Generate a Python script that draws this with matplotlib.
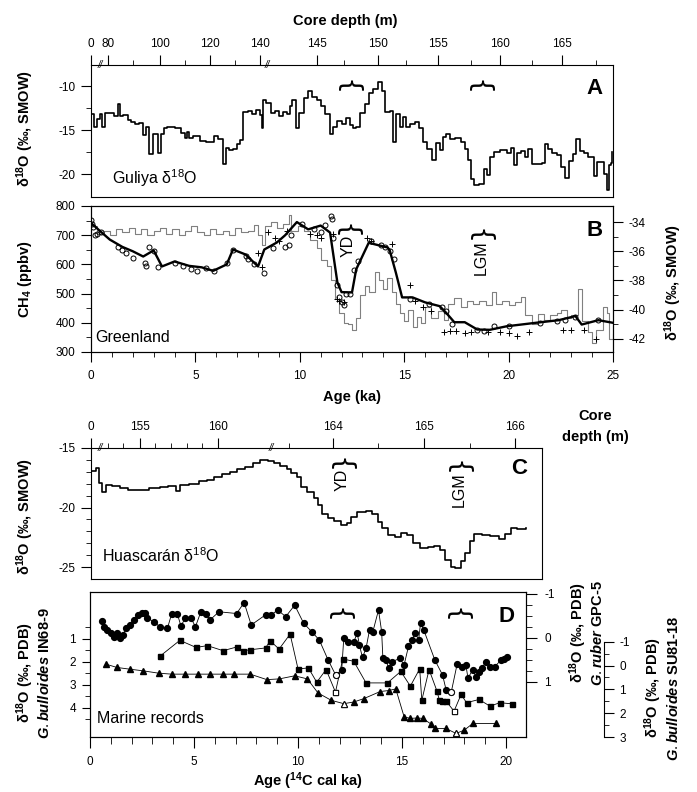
import matplotlib
matplotlib.use("Agg")
import matplotlib.pyplot as plt

plt.rcParams['font.family'] = ['Liberation Sans', 'DejaVu Sans']
plt.rcParams['mathtext.fontset'] = 'custom'
plt.rcParams['mathtext.rm'] = 'Liberation Sans'
plt.rcParams['mathtext.bf'] = 'Liberation Sans:bold'
plt.rcParams['mathtext.it'] = 'Liberation Sans:bold:italic'
plt.rcParams['axes.unicode_minus'] = False
plt.rcParams['axes.linewidth'] = 0.8
plt.rcParams['xtick.direction'] = 'out'
plt.rcParams['ytick.direction'] = 'out'

# ---- panel A : Guliya d18O (age ka, permil)
guliya_age = [0.0, 0.15, 0.3, 0.45, 0.55, 0.65, 0.9, 1.1, 1.3, 1.4, 1.55, 1.75, 1.9, 2.1, 2.3,
              2.5, 2.65, 2.8, 2.95, 3.2, 3.35, 3.5, 3.65, 4.0, 4.3, 4.5, 4.6, 4.7, 4.9, 5.2,
              5.5, 5.9, 6.1, 6.3, 6.45, 6.6, 6.8, 7.0, 7.15, 7.3, 7.5, 7.7, 7.9, 8.1, 8.2,
              8.25, 8.4, 8.6, 8.8, 9.0, 9.2, 9.4, 9.55, 9.65, 9.8, 9.95, 10.2, 10.4, 10.6, 10.8,
              11.0, 11.2, 11.45, 11.6, 11.8, 12.0, 12.2, 12.4, 12.55, 12.7, 12.9, 13.1, 13.3, 13.5,
              13.75, 13.95, 14.1, 14.3, 14.45, 14.6, 14.8, 14.95, 15.1, 15.3, 15.5, 15.7, 15.9,
              16.1, 16.35, 16.5, 16.7, 16.85, 17.0, 17.2, 17.45, 17.7, 17.9, 18.05, 18.2, 18.35,
              18.6, 18.8, 18.95, 19.1, 19.3, 19.6, 19.9, 20.1, 20.25, 20.4, 20.6, 20.8, 20.95,
              21.1, 21.4, 21.6, 21.75, 21.9, 22.1, 22.3, 22.5, 22.7, 22.9, 23.1, 23.25, 23.4,
              23.6, 23.8, 23.95, 24.1, 24.25, 24.4, 24.55, 24.7, 24.8, 24.9, 24.97]
guliya_d18o = [-13.2, -14.6, -13.7, -13.2, -14.6, -13.1, -13.0, -13.4, -12.0, -13.4, -13.3, -13.8,
               -14.1, -14.3, -14.2, -15.5, -14.6, -17.7, -15.4, -17.6, -15.4, -14.8, -14.7, -14.8,
               -15.3, -15.9, -15.2, -15.9, -15.7, -16.2, -16.4, -15.7, -16.0, -18.8, -17.0, -17.3,
               -17.1, -16.6, -16.1, -12.9, -12.8, -13.2, -12.7, -13.3, -14.8, -11.6, -11.9, -13.0,
               -12.8, -13.4, -12.9, -13.2, -12.3, -11.6, -14.8, -13.0, -11.3, -10.6, -11.2, -11.6,
               -12.3, -13.2, -15.4, -14.6, -14.0, -14.3, -13.6, -14.4, -14.8, -14.6, -13.0, -12.0,
               -10.8, -10.3, -9.5, -10.5, -12.9, -12.8, -16.3, -13.2, -14.6, -13.5, -14.6, -14.3,
               -14.1, -14.8, -16.4, -17.2, -18.4, -16.5, -17.3, -15.8, -15.4, -16.0, -15.9, -16.3,
               -17.2, -18.4, -20.5, -21.2, -21.1, -19.4, -20.1, -18.0, -17.5, -17.3, -17.6, -17.0,
               -19.0, -17.6, -17.4, -18.0, -17.1, -18.8, -18.8, -18.7, -16.6, -17.2, -17.6, -17.8,
               -19.2, -20.4, -18.5, -17.7, -16.0, -17.4, -17.6, -18.0, -18.1, -20.2, -18.6, -18.6,
               -20.0, -21.8, -19.0, -18.7, -17.5]
depthA_labels = ['0', '80', '100', '120', '140', '145', '150', '155', '160', '165']
depthA_ages = [0.0, 0.8, 3.3, 5.7, 8.1, 10.8, 13.75, 16.6, 19.6, 22.55]
depthA_minor = [2.0, 4.5, 6.9, 12.1, 15.1, 18.2, 21.1, 24.2]

# ---- panel B : Greenland CH4 (ppbv) and d18O (permil)
gisp_age = [0.0, 0.3, 0.6, 0.9, 1.2, 1.5, 1.8, 2.1, 2.4, 2.7, 3.0, 3.3, 3.6, 3.9, 4.2, 4.5, 4.8,
            5.1, 5.4, 5.7, 6.0, 6.3, 6.6, 6.9, 7.2, 7.5, 7.8, 8.0, 8.2, 8.35, 8.6, 8.9, 9.2, 9.5,
            9.6, 9.9, 10.2, 10.5, 10.8, 11.0, 11.3, 11.5, 11.7, 11.9, 12.1, 12.3, 12.5, 12.7,
            12.9, 13.1, 13.3, 13.6, 13.8, 14.0, 14.2, 14.4, 14.6, 14.8, 15.0, 15.2, 15.4, 15.6,
            15.8, 16.0, 16.3, 16.6, 16.9, 17.1, 17.4, 17.7, 18.0, 18.3, 18.6, 18.9, 19.2, 19.4,
            19.7, 20.0, 20.3, 20.6, 20.8, 21.1, 21.4, 21.7, 22.0, 22.3, 22.5, 22.8, 23.0, 23.3,
            23.5, 23.8, 24.0, 24.2, 24.5, 24.7, 24.8, 25.0]
gisp_d18o = [-34.3, -34.8, -34.6, -34.9, -34.5, -34.7, -34.4, -34.8, -34.5, -34.9, -34.6, -34.4,
             -34.8, -34.5, -34.9, -34.6, -34.3, -34.7, -34.9, -34.5, -34.8, -34.6, -34.9, -34.4,
             -34.7, -34.6, -34.2, -34.9, -35.6, -34.3, -34.0, -34.4, -34.1, -33.5, -34.6, -34.3,
             -34.6, -35.2, -35.8, -36.6, -37.0, -38.0, -39.3, -40.2, -40.9, -41.0, -41.4, -40.6,
             -39.0, -38.4, -38.8, -37.4, -38.0, -38.6, -37.8, -38.8, -39.6, -40.2, -40.8, -40.0,
             -41.2, -40.5, -40.9, -39.8, -40.6, -40.1, -40.7, -39.6, -39.2, -39.8, -39.4, -39.6,
             -39.4, -39.7, -38.8, -39.6, -39.4, -39.7, -39.5, -39.1, -40.4, -41.0, -40.3, -40.7,
             -40.4, -40.2, -40.0, -40.6, -40.4, -38.6, -40.8, -41.5, -42.3, -41.4, -39.8, -40.2,
             -42.0, -41.7]
ch4_fit_age = [0.0, 0.5, 0.9, 1.5, 2.0, 2.5, 3.0, 3.4, 4.0, 4.7, 5.3, 5.85, 6.5, 6.8, 7.4, 8.0,
               8.3, 8.9, 9.3, 9.86, 10.4, 11.0, 11.45, 11.8, 12.0, 12.5, 12.7, 13.3, 14.2, 14.3,
               14.6, 14.9, 15.4, 16.0, 16.7, 17.0, 17.4, 17.9, 18.5, 19.1, 19.9, 21.3, 22.4,
               23.2, 23.5, 24.3, 25.0]
ch4_fit = [742, 710, 685, 660, 645, 627, 648, 593, 610, 595, 590, 578, 600, 651, 634, 593, 651,
           675, 700, 745, 720, 733, 709, 538, 505, 504, 583, 674, 658, 650, 572, 487, 487, 470,
           457, 435, 402, 402, 377, 376, 388, 400, 409, 423, 394, 409, 400]
ch4_circ_age = [0.0, 0.05, 0.1, 0.2, 0.3, 0.5, 1.3, 1.5, 1.7, 2.0, 2.6, 2.65, 2.8, 3.0, 3.2, 4.0,
                4.4, 4.8, 5.1, 5.5, 5.9, 6.5, 6.8, 7.4, 7.5, 7.8, 8.3, 8.7, 9.3, 9.5, 9.6, 10.1,
                10.7, 11.0, 11.2, 11.5, 11.55, 11.6, 11.8, 11.9, 12.0, 12.1, 12.2, 12.4, 12.6,
                12.8, 13.4, 13.9, 14.1, 14.3, 14.5, 15.3, 16.2, 16.8, 17.0, 17.3, 18.5, 18.8,
                19.3, 20.0, 21.5, 22.3, 22.7, 23.2, 24.3]
ch4_circ = [752, 740, 728, 700, 705, 712, 660, 650, 640, 622, 605, 595, 660, 645, 590, 605, 595,
            585, 578, 588, 576, 605, 650, 630, 620, 600, 570, 655, 660, 665, 700, 740, 720, 710,
            735, 765, 755, 690, 530, 490, 470, 460, 500, 500, 580, 610, 680, 665, 660, 645, 620,
            480, 465, 455, 440, 395, 375, 372, 388, 390, 400, 405, 410, 420, 408]
ch4_plus_age = [8.0, 8.2, 8.5, 8.8, 9.0, 9.4, 10.5, 10.8, 11.0, 11.6, 11.8, 11.9, 12.1, 13.2,
                13.4, 14.4, 15.3, 15.5, 15.9, 16.3, 16.9, 17.2, 17.5, 17.9, 18.2, 19.0, 19.6,
                20.0, 20.4, 21.0, 22.6, 23.0, 23.6, 24.2]
ch4_plus = [640, 590, 712, 690, 680, 715, 705, 700, 690, 705, 480, 475, 470, 690, 680, 670, 530,
            475, 455, 440, 370, 372, 372, 365, 368, 370, 368, 365, 355, 370, 375, 375, 375, 345]

# ---- panel C : Huascaran d18O
huas_age = [0.0, 0.25, 0.4, 0.55, 0.7, 1.0, 1.4, 1.8, 2.3, 2.8, 3.3, 3.7, 4.1, 4.3, 4.7, 5.2,
            5.6, 5.9, 6.3, 6.7, 7.0, 7.4, 7.8, 8.1, 8.5, 8.8, 9.1, 9.4, 9.6, 9.9, 10.1, 10.4,
            10.7, 10.9, 11.1, 11.4, 11.7, 12.0, 12.3, 12.5, 12.8, 13.2, 13.5, 13.8, 14.0, 14.3,
            14.6, 14.9, 15.2, 15.5, 15.8, 16.2, 16.5, 16.8, 17.0, 17.3, 17.5, 17.8, 18.0, 18.2,
            18.4, 18.8, 19.2, 19.6, 19.9, 20.2, 20.5, 20.9]
huas_d18o = [-16.9, -16.7, -17.9, -18.7, -18.1, -18.2, -18.4, -18.5, -18.5, -18.4, -18.3, -18.2,
             -18.6, -18.1, -18.0, -17.8, -17.7, -17.4, -17.2, -17.0, -16.8, -16.6, -16.3, -16.0,
             -16.1, -16.3, -16.5, -16.8, -17.1, -17.4, -18.3, -18.7, -19.2, -19.8, -20.5, -20.9,
             -21.1, -21.5, -21.3, -20.8, -20.4, -20.3, -20.5, -21.2, -21.7, -22.3, -22.5, -22.1,
             -22.3, -23.0, -23.4, -23.3, -23.2, -23.6, -24.4, -25.0, -25.1, -24.5, -23.8, -22.8,
             -22.2, -22.3, -22.4, -22.6, -22.2, -21.7, -21.8, -21.7]
depthC_labels = ['0', '155', '160', '164', '165', '166']
depthC_ages = [0.0, 2.37, 6.12, 11.65, 16.02, 20.4]
depthC_minor = [0.8, 1.55, 3.1, 3.85, 4.6, 5.35, 9.5, 13.8, 18.2]

# ---- panel D : marine records
gpc5_age = [0.57, 0.65, 0.83, 1.0, 1.15, 1.3, 1.43, 1.58, 1.73, 1.9, 2.1, 2.33, 2.5, 2.65, 2.75,
            3.08, 3.35, 3.72, 3.93, 4.2, 4.37, 4.58, 4.86, 5.07, 5.33, 5.6, 5.76, 6.2, 7.05, 7.41,
            7.75, 8.44, 8.72, 9.02, 9.41, 9.84, 10.27, 10.65, 11.02, 11.45, 11.81, 12.1, 12.2,
            12.42, 12.68, 12.85, 12.95, 13.1, 13.27, 13.44, 13.6, 13.87, 14.02, 14.08, 14.24,
            14.35, 14.52, 14.88, 15.1, 15.31, 15.47, 15.63, 15.8, 15.89, 16.05, 16.58, 16.95,
            17.12, 17.37, 17.65, 17.86, 18.07, 18.17, 18.4, 18.55, 18.7, 18.85, 19.02, 19.23,
            19.45, 19.76, 19.9, 20.07]
gpc5_d18o = [-0.39, -0.25, -0.17, -0.11, -0.02, -0.11, 0.01, -0.06, -0.22, -0.29, -0.40, -0.52,
             -0.56, -0.56, -0.45, -0.36, -0.25, -0.21, -0.55, -0.54, -0.27, -0.44, -0.44, -0.25,
             -0.59, -0.55, -0.40, -0.59, -0.55, -0.80, -0.29, -0.52, -0.52, -0.63, -0.48, -0.74,
             -0.33, -0.14, 0.05, 0.51, 0.85, 0.73, 0.01, 0.09, 0.09, -0.10, 0.17, 0.45, 0.24,
             -0.18, -0.14, -0.63, -0.14, 0.47, 0.51, 0.70, 0.55, 0.47, 0.62, 0.20, 0.05, -0.10,
             0.05, -0.33, -0.17, 0.51, 0.85, 1.19, 1.23, 0.60, 0.66, 0.62, 0.92, 0.73, 0.89,
             0.77, 0.70, 0.55, 0.66, 0.66, 0.51, 0.49, 0.45]
gpc5_open = [11.81, 17.37]
in68_age = [3.35, 4.32, 5.1, 5.64, 6.4, 7.05, 7.37, 7.7, 8.44, 8.66, 9.09, 9.62, 10.0, 10.5,
            10.9, 11.35, 11.8, 12.15, 12.68, 13.27, 14.3, 14.94, 15.4, 15.85, 15.95, 16.3,
            16.67, 16.8, 16.9, 17.12, 17.5, 17.84, 18.1, 18.7, 19.23, 19.7, 20.3]
in68_d18o = [1.77, 1.07, 1.38, 1.30, 1.52, 1.36, 1.52, 1.48, 1.40, 1.09, 1.45, 0.80, 2.31, 2.27,
             2.89, 2.34, 3.32, 1.88, 1.98, 2.92, 2.92, 2.42, 3.06, 2.31, 3.68, 2.34, 3.25, 3.68,
             3.71, 3.71, 4.15, 3.42, 3.78, 3.64, 3.93, 3.78, 3.83]
in68_open = [11.8, 17.5]
su81_age = [0.76, 1.3, 1.9, 2.55, 3.3, 3.93, 4.58, 5.2, 5.76, 6.4, 6.93, 7.7, 8.5, 9.1, 9.84,
            10.45, 10.96, 11.6, 12.2, 12.68, 13.16, 13.95, 14.35, 14.7, 15.1, 15.4, 15.73,
            16.0, 16.4, 16.6, 17.1, 17.6, 18.0, 18.4, 19.5]
su81_d18o = [-0.06, 0.08, 0.15, 0.22, 0.32, 0.36, 0.36, 0.36, 0.36, 0.36, 0.36, 0.36, 0.59,
             0.56, 0.43, 0.56, 1.15, 1.46, 1.60, 1.53, 1.39, 1.09, 1.05, 0.98, 2.15, 2.22, 2.20,
             2.22, 2.46, 2.64, 2.64, 2.85, 2.71, 2.43, 2.43]
su81_open = [12.2, 17.6]

W, H = 697, 792
fig = plt.figure(figsize=(W / 100, H / 100), dpi=100)


def box(x0, y0, x1, y1):
    return fig.add_axes([x0 / W, 1 - y1 / H, (x1 - x0) / W, (y1 - y0) / H])


def ft(x, y, s, **kw):
    kw.setdefault('ha', 'center')
    kw.setdefault('va', 'center')
    return fig.text(x / W, 1 - y / H, s, **kw)


def brace(x, y, size=19):
    # "}" turned on its side, bottom edge at y
    ft(x, y, '}', fontsize=size, rotation=90, family='DejaVu Sans', va='bottom')


def period(x, top, s):
    # rotated label (YD / LGM) with its brace above
    ft(x, top, s, rotation=90, fontsize=11.5, va='top')
    brace(x + 1, top - 1)


TS = 8.5
LAB = dict(fontsize=10.5, fontweight='bold')

# ================= A
ax_a = box(91, 65, 613, 197)
ax_a.step(guliya_age, guliya_d18o, where='post', color='k', lw=1.2)
ax_a.set_xlim(0, 25)
ax_a.set_ylim(-22.6, -7.6)
ax_a.set_yticks([-10, -15, -20])
ax_a.set_yticks([-12.5, -17.5], minor=True)
ax_a.xaxis.tick_top()
ax_a.set_xticks(depthA_ages, depthA_labels)
ax_a.set_xticks(depthA_minor, minor=True)
ax_a.tick_params(which='major', length=7, pad=4, labelsize=TS)
ax_a.tick_params(which='minor', length=3.5)
for a in [0.45, 8.45]:
    ax_a.text(a, 1.0, '//', transform=ax_a.get_xaxis_transform(), fontsize=7,
              ha='center', va='center', style='italic')
ax_a.text(0.04, 0.14, 'Guliya δ$^{18}$O', transform=ax_a.transAxes, fontsize=11.5,
          va='center')
ax_a.text(0.965, 0.82, 'A', transform=ax_a.transAxes, fontsize=16, fontweight='bold',
          ha='center', va='center')
brace(350, 90)
brace(481, 90)
ft(345, 21, 'Core depth (m)', **LAB)
ft(25, 128, 'δ$^{\\mathbf{18}}$O (‰, SMOW)', rotation=90, **LAB)

# ================= B
ax_b = box(91, 206, 613, 352)
ax_b2 = ax_b.twinx()
ax_b2.step(gisp_age, gisp_d18o, where='post', color='0.5', lw=0.8)
ax_b2.set_ylim(-42.9, -32.9)
ax_b2.set_yticks([-34, -36, -38, -40, -42])
ax_b2.set_yticks([-35, -37, -39, -41], minor=True)
ax_b2.tick_params(which='major', length=7, pad=4, labelsize=TS)
ax_b2.tick_params(which='minor', length=3.5)
ax_b.set_zorder(ax_b2.get_zorder() + 1)
ax_b.patch.set_visible(False)
ax_b.plot(ch4_fit_age, ch4_fit, color='k', lw=1.7)
ax_b.plot(ch4_circ_age, ch4_circ, 'o', mfc='none', mec='k', ms=3.6, mew=0.7)
ax_b.plot(ch4_plus_age, ch4_plus, '+', color='k', ms=4.5, mew=0.7)
ax_b.set_xlim(0, 25)
ax_b.set_ylim(300, 800)
ax_b.set_xticks([0, 5, 10, 15, 20, 25])
ax_b.set_xticks(range(0, 26), minor=True)
ax_b.set_yticks(range(300, 801, 100))
ax_b.set_yticks(range(350, 800, 100), minor=True)
ax_b.tick_params(which='major', length=7, pad=4, labelsize=TS)
ax_b.tick_params(axis='x', which='major', pad=6)
ax_b.tick_params(which='minor', length=3.5)
ax_b.text(0.008, 0.10, 'Greenland', transform=ax_b.transAxes, fontsize=11.5, va='center')
ax_b.text(0.965, 0.83, 'B', transform=ax_b.transAxes, fontsize=16, fontweight='bold',
          ha='center', va='center')
period(348, 235, 'YD')
period(481, 240, 'LGM')
ft(25, 279, 'CH$_\\mathbf{4}$ (ppbv)', rotation=90, **LAB)
ft(673, 282, 'δ$^{\\mathbf{18}}$O (‰, SMOW)', rotation=90, **LAB)
ft(352, 397, 'Age (ka)', **LAB)

# ================= C
ax_c = box(91, 448, 542, 579)
ax_c.step(huas_age, huas_d18o, where='post', color='k', lw=1.2)
ax_c.set_xlim(0, 21.68)
ax_c.set_ylim(-26, -15)
ax_c.set_yticks([-15, -20, -25])
ax_c.set_yticks([-16, -17, -18, -19, -21, -22, -23, -24], minor=True)
ax_c.xaxis.tick_top()
ax_c.set_xticks(depthC_ages, depthC_labels)
ax_c.set_xticks(depthC_minor, minor=True)
ax_c.tick_params(which='major', length=7, pad=4, labelsize=TS)
ax_c.tick_params(which='minor', length=3.5)
for a in [0.45, 8.67]:
    ax_c.text(a, 1.0, '//', transform=ax_c.get_xaxis_transform(), fontsize=7,
              ha='center', va='center', style='italic')
ax_c.text(0.025, 0.18, 'Huascarán δ$^{18}$O', transform=ax_c.transAxes, fontsize=11.5,
          va='center')
ax_c.text(0.95, 0.84, 'C', transform=ax_c.transAxes, fontsize=16, fontweight='bold',
          ha='center', va='center')
period(342, 469, 'YD')
period(459, 472, 'LGM')
ft(25, 516, 'δ$^{\\mathbf{18}}$O (‰, SMOW)', rotation=90, **LAB)
ft(595, 416, 'Core', **LAB)
ft(595, 437, 'depth (m)', **LAB)

# ================= D
ax_d = box(90, 592, 526, 737)
ax_g = ax_d.twinx()
ax_s = ax_d.twinx()
ax_d.plot(in68_age, in68_d18o, '-s', color='k', lw=0.6, ms=3.6)
for a, v in zip(in68_age, in68_d18o):
    if a in in68_open:
        ax_d.plot(a, v, 's', mfc='white', mec='k', ms=3.6, mew=0.6)
ax_g.plot(gpc5_age, gpc5_d18o, '-o', color='k', lw=0.6, ms=4.2)
for a, v in zip(gpc5_age, gpc5_d18o):
    if a in gpc5_open:
        ax_g.plot(a, v, 'o', mfc='white', mec='k', ms=4.2, mew=0.6)
ax_s.plot(su81_age, su81_d18o, '-^', color='k', lw=0.6, ms=3.8)
for a, v in zip(su81_age, su81_d18o):
    if a in su81_open:
        ax_s.plot(a, v, '^', mfc='white', mec='k', ms=3.8, mew=0.6)

ax_d.set_xlim(0, 20.96)
ax_d.set_ylim(5.27, -1.03)
ax_d.set_yticks([1, 2, 3, 4])
ax_d.set_yticks([0.5, 1.5, 2.5, 3.5, 4.5], minor=True)
ax_d.set_xticks([0, 5, 10, 15, 20])
ax_d.set_xticks(range(0, 21), minor=True)
ax_d.tick_params(which='major', length=6, pad=4, labelsize=TS)
ax_d.tick_params(axis='x', which='major', length=8, pad=6)
ax_d.tick_params(which='minor', length=3.5)
ax_d.tick_params(axis='x', which='minor', length=5)

ax_g.set_ylim(2.26, -1.04)
ax_g.set_yticks([-1, 0, 1])
ax_g.set_yticks([-0.75, -0.5, -0.25, 0.25, 0.5, 0.75], minor=True)
ax_g.tick_params(which='major', length=8, pad=5, labelsize=TS)
ax_g.tick_params(which='minor', length=4)

ax_s.set_ylim(2.94, -3.09)
ax_s.spines['right'].set_position(('axes', (604 - 90) / 436))
ax_s.spines['right'].set_bounds(-1, 3)
for sp in ['top', 'bottom', 'left']:
    ax_s.spines[sp].set_visible(False)
ax_s.set_yticks([-1, 0, 1, 2, 3])
ax_s.set_yticks([-0.5, 0.5, 1.5, 2.5], minor=True)
ax_s.tick_params(which='major', length=7, pad=4, labelsize=TS)
ax_s.tick_params(which='minor', length=3.5)

ax_d.text(0.015, 0.13, 'Marine records', transform=ax_d.transAxes, fontsize=11.5,
          va='center')
ax_d.text(0.955, 0.83, 'D', transform=ax_d.transAxes, fontsize=16, fontweight='bold',
          ha='center', va='center')
brace(341, 618)
brace(459, 618)
ft(25, 673, 'δ$^{\\mathbf{18}}$O (‰, PDB)', rotation=90, **LAB)
ft(45, 673, '$\\mathit{G. bulloides}$ IN68-9', rotation=90, **LAB)
ft(578, 633, 'δ$^{\\mathbf{18}}$O (‰, PDB)', rotation=90, **LAB)
ft(597, 633, '$\\mathit{G. ruber}$ GPC-5', rotation=90, **LAB)
ft(653, 688, 'δ$^{\\mathbf{18}}$O (‰, PDB)', rotation=90, **LAB)
ft(673, 688, '$\\mathit{G. bulloides}$ SU81-18', rotation=90, **LAB)
ft(308, 781, 'Age ($^{\\mathbf{14}}$C cal ka)', **LAB)

fig.savefig('out.png', dpi=100)
